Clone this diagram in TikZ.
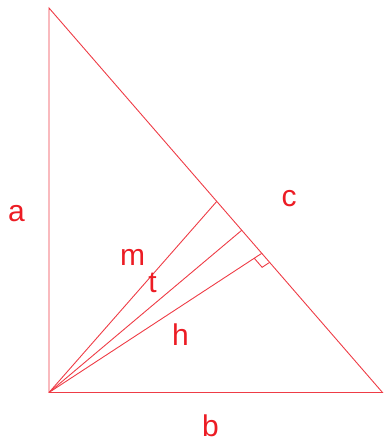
\documentclass[tikz,border=0pt]{standalone}
\usepackage{fontspec}
\setmainfont{Liberation Sans}
\usetikzlibrary{calc}
\definecolor{linered}{RGB}{238,60,70}
\definecolor{textred}{RGB}{236,28,36}
\begin{document}
\begin{tikzpicture}[x=1pt,y=-1pt,
  edge/.style={draw=linered,line width=0.9pt},
  lbl/.style={text=textred,inner sep=0pt,anchor=base,font=\fontsize{30}{36}\selectfont}]
\useasboundingbox (0,0) rectangle (383,443);
\coordinate (A) at (49,8);
\coordinate (C) at (49,392.5);
\coordinate (B) at (382.5,392.5);
\coordinate (M) at ($(A)!0.503!(B)$);
\coordinate (T) at ($(A)!0.578!(B)$);
\coordinate (F) at ($(A)!0.638!(B)$);
\draw[edge] (A) -- (C) -- (B) -- cycle;
\draw[edge] (C) -- (M);
\draw[edge] (C) -- (T);
\draw[edge] (C) -- (F);
\coordinate (Q1) at ($(F)!9pt!(C)$);
\coordinate (Q3) at ($(F)!12pt!(B)$);
\coordinate (Q2) at ($(Q1)+(Q3)-(F)$);
\draw[edge] (Q1) -- (Q2) -- (Q3);
\node[lbl] (la) at (16.5,222) {a};
\node[lbl] (lb) at (210.5,436.5) {b};
\node[lbl] (lc) at (289,207) {c};
\node[lbl] (lm) at (132.5,265) {m};
\node[lbl] (lt) at (152.5,292) {t};
\node[lbl] (lh) at (180.5,345) {h};
\end{tikzpicture}
\end{document}
